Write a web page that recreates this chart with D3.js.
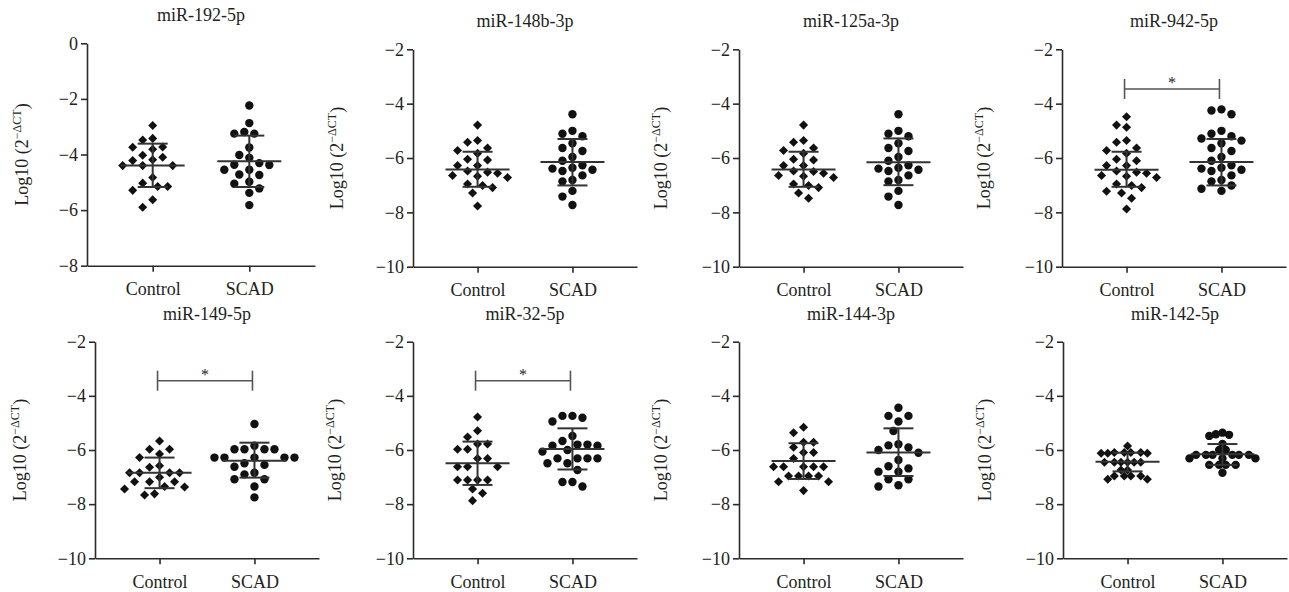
<!DOCTYPE html>
<html><head><meta charset="utf-8">
<script src="https://cdn.jsdelivr.net/npm/d3@7"></script>
<style>body{margin:0;background:#fff} svg{display:block} text{font-family:"Liberation Serif","Times New Roman",serif;fill:#231f20}</style>
</head><body>
<script>
// ---------- DATA ----------
const titles = ["miR-192-5p","miR-148b-3p","miR-125a-3p","miR-942-5p","miR-149-5p","miR-32-5p","miR-144-3p","miR-142-5p"];
const groups = ["Control","SCAD"];
const yDomains = [[-8,0],[-10,-2],[-10,-2],[-10,-2],[-10,-2],[-10,-2],[-10,-2],[-10,-2]];
const yTickValues = [[0,-2,-4,-6,-8],[-2,-4,-6,-8,-10],[-2,-4,-6,-8,-10],[-2,-4,-6,-8,-10],[-2,-4,-6,-8,-10],[-2,-4,-6,-8,-10],[-2,-4,-6,-8,-10],[-2,-4,-6,-8,-10]];

const controlValues = [
  [-2.96,-3.42,-3.48,-3.74,-3.73,-3.81,-4.03,-4.10,-4.22,-4.19,-4.40,-4.40,-4.40,-4.83,-5.03,-5.15,-5.15,-5.29,-5.63,-5.90],
  [-4.79,-5.36,-5.42,-5.63,-5.72,-5.83,-6.05,-6.07,-6.28,-6.28,-6.64,-6.56,-6.72,-6.67,-6.52,-6.48,-6.96,-7.09,-7.01,-7.29,-7.77],
  [-4.79,-5.36,-5.42,-5.63,-5.72,-5.83,-6.05,-6.07,-6.28,-6.28,-6.64,-6.56,-6.72,-6.67,-6.50,-6.48,-6.96,-7.09,-7.01,-7.29,-7.48],
  [-4.48,-4.87,-4.79,-5.36,-5.42,-5.63,-5.72,-5.83,-6.05,-6.10,-6.28,-6.28,-6.64,-6.56,-6.72,-6.67,-6.52,-6.48,-6.96,-7.09,-7.01,-7.29,-7.22,-7.48,-7.88],
  [-5.67,-5.97,-5.97,-6.15,-6.28,-6.58,-6.64,-6.84,-6.84,-6.84,-6.84,-7.01,-7.17,-7.17,-7.17,-7.35,-7.44,-7.37,-7.66,-7.62],
  [-4.78,-5.29,-5.52,-5.78,-5.78,-5.97,-5.97,-6.31,-6.31,-6.62,-6.62,-6.62,-7.11,-7.11,-7.11,-7.11,-7.44,-7.60,-7.87],
  [-5.16,-5.36,-5.71,-5.71,-5.90,-6.09,-6.09,-6.31,-6.62,-6.62,-6.62,-6.62,-6.62,-6.96,-6.96,-6.96,-6.96,-7.17,-7.17,-7.50],
  [-5.85,-6.09,-6.12,-6.09,-6.12,-6.09,-6.12,-6.09,-6.45,-6.45,-6.45,-6.45,-6.45,-6.45,-6.74,-6.74,-6.96,-6.96,-6.96,-6.96,-7.08,-7.08]
];
const scadValues = [
  [-2.24,-2.87,-3.19,-3.25,-3.25,-3.75,-4.12,-4.02,-4.37,-4.31,-4.38,-4.55,-4.55,-4.72,-4.74,-4.98,-5.05,-5.22,-5.38,-5.82],
  [-4.39,-5.00,-5.11,-5.20,-5.46,-5.63,-5.74,-5.96,-6.10,-6.36,-6.43,-6.27,-6.48,-6.39,-6.64,-6.81,-6.86,-7.21,-7.42,-7.73],
  [-4.39,-5.00,-5.11,-5.20,-5.46,-5.63,-5.74,-5.96,-6.10,-6.36,-6.43,-6.27,-6.48,-6.39,-6.64,-6.81,-6.86,-7.21,-7.42,-7.73],
  [-4.21,-4.39,-4.25,-5.00,-5.11,-5.20,-5.28,-5.36,-5.46,-5.63,-5.74,-5.96,-6.10,-6.36,-6.43,-6.27,-6.48,-6.39,-6.64,-6.81,-6.86,-7.13,-7.01,-7.21],
  [-5.04,-5.84,-5.97,-5.97,-5.97,-5.97,-6.28,-6.28,-6.28,-6.28,-6.28,-6.49,-6.55,-6.62,-6.84,-6.90,-7.08,-7.08,-7.35,-7.75],
  [-4.74,-4.81,-4.74,-4.95,-5.48,-5.67,-5.80,-5.84,-5.84,-5.80,-6.00,-6.06,-6.31,-6.31,-6.31,-6.31,-6.49,-6.49,-6.74,-7.18,-7.18,-7.35],
  [-4.44,-4.74,-4.74,-4.95,-5.30,-5.79,-5.83,-5.91,-6.00,-6.10,-6.37,-6.60,-6.68,-6.80,-6.80,-7.08,-7.08,-7.30,-7.35],
  [-5.36,-5.44,-5.48,-5.42,-5.78,-6.00,-6.00,-6.18,-6.18,-6.18,-6.18,-6.18,-6.18,-6.31,-6.31,-6.31,-6.55,-6.55,-6.55,-6.55,-6.84]
];
// [centre line, upper whisker, lower whisker] as drawn
const controlStats = [[-4.40,-3.61,-5.17],[-6.42,-5.77,-7.06],[-6.42,-5.77,-7.06],[-6.43,-5.77,-7.06],[-6.84,-6.28,-7.41],[-6.49,-5.69,-7.29],[-6.41,-5.75,-7.07],[-6.43,-6.10,-6.79]];
const scadStats    = [[-4.24,-3.32,-5.17],[-6.15,-5.30,-7.01],[-6.16,-5.28,-7.00],[-6.15,-5.30,-7.01],[-6.40,-5.73,-7.02],[-5.96,-5.20,-6.72],[-6.09,-5.20,-6.96],[-6.16,-5.78,-6.55]];
const sigLevels = [null,null,null,-3.46,-3.44,-3.44,null,null];
const sigLabel = "*";
const yLabelMain = "Log10 (2";
const yLabelSup = "\u2212\u0394CT";

// ---------- LAYOUT ----------
const W = 1289, H = 592;
const panels = [
  {x0:87,  x1:315,  yTop:43.3,  yBot:265.7, labX:22,  step:5,   gap:10},
  {x0:413, x1:637,  yTop:49.3,  yBot:266.7, labX:337, step:5,   gap:10},
  {x0:739, x1:963,  yTop:49.3,  yBot:266.7, labX:661, step:5,   gap:10},
  {x0:1062,x1:1286, yTop:49.3,  yBot:266.7, labX:984, step:5,   gap:10},
  {x0:95,  x1:319,  yTop:341.7, yBot:558.3, labX:20,  step:5,   gap:10},
  {x0:413, x1:637,  yTop:341.7, yBot:558.3, labX:335, step:5,   gap:10},
  {x0:739, x1:963,  yTop:341.7, yBot:558.3, labX:661, step:5,   gap:10},
  {x0:1063,x1:1287, yTop:341.7, yBot:558.3, labX:985, step:3.3, gap:6.6}
];
const axisColor = "#2b2b2b", barColor = "#333", sigColor = "#555";
const serif = '"Liberation Serif","Times New Roman",serif';

const svg = d3.select("body").append("svg").attr("width", W).attr("height", H);

function swarm(values, y, step, minDist) {
  const pts = values.map(v => ({v, y: y(v)})).sort((a, b) => a.y - b.y);
  const placed = [];
  for (const p of pts) {
    for (let k = 0; k < 80; k++) {
      const off = k === 0 ? 0 : (k % 2 ? -Math.ceil(k / 2) : Math.ceil(k / 2)) * step;
      if (placed.every(q => Math.hypot(q.dx - off, q.y - p.y) >= minDist)) { p.dx = off; break; }
    }
    placed.push(p);
  }
  return placed;
}

titles.forEach((title, i) => {
  const L = panels[i];
  const g = svg.append("g");
  const x = d3.scalePoint().domain(groups).range([L.x0, L.x1]).padding(0.68);
  const y = d3.scaleLinear().domain(yDomains[i]).range([L.yBot, L.yTop]);

  // title
  g.append("text").attr("x", (L.x0 + L.x1) / 2).attr("y", L.yTop - 22)
    .attr("text-anchor", "middle").style("font-size", "18px").style("font-family", serif).text(title);

  // axes
  const ya = g.append("g").attr("transform", `translate(${L.x0},0)`)
    .call(d3.axisLeft(y).tickValues(yTickValues[i]).tickSize(6).tickSizeOuter(0).tickPadding(3).tickFormat(d3.format("d")));
  const xa = g.append("g").attr("transform", `translate(0,${L.yBot})`)
    .call(d3.axisBottom(x).tickSize(6).tickSizeOuter(0).tickPadding(11));
  [ya, xa].forEach(a => {
    a.attr("font-family", serif);
    a.selectAll("path,line").attr("stroke", axisColor).attr("stroke-width", 1.6);
    a.selectAll("text").style("font-size", "18px").attr("fill", "#231f20").style("font-family", serif);
  });

  // y label
  const lab = g.append("text")
    .attr("transform", `translate(${L.labX + 6},${(L.yTop + L.yBot) / 2}) rotate(-90)`)
    .attr("text-anchor", "middle").style("font-size", "18px").style("font-family", serif);
  lab.append("tspan").text(yLabelMain);
  lab.append("tspan").attr("dy", -7).style("font-size", "12px").text(yLabelSup);
  lab.append("tspan").attr("dy", 7).text(")");

  // points
  [controlValues[i], scadValues[i]].forEach((vals, gi) => {
    const cx = x(groups[gi]);
    const pts = swarm(vals, y, L.step, L.gap);
    if (gi === 0) {
      g.selectAll(null).data(pts).enter().append("path")
        .attr("d", d3.symbol(d3.symbolDiamond2, 52)())
        .attr("transform", d => `translate(${cx + d.dx},${d.y})`)
        .attr("fill", "#111");
    } else {
      g.selectAll(null).data(pts).enter().append("circle")
        .attr("cx", d => cx + d.dx).attr("cy", d => d.y).attr("r", 4.2)
        .attr("fill", "#111");
    }
  });

  // centre line and whiskers
  [controlStats[i], scadStats[i]].forEach((s, gi) => {
    const cx = x(groups[gi]);
    const [c, up, lo] = s;
    g.append("line").attr("x1", cx - 32).attr("x2", cx + 32).attr("y1", y(c)).attr("y2", y(c))
      .attr("stroke", barColor).attr("stroke-width", 2);
    g.append("line").attr("x1", cx).attr("x2", cx).attr("y1", y(up)).attr("y2", y(lo))
      .attr("stroke", barColor).attr("stroke-width", 2);
    [up, lo].forEach(v => g.append("line").attr("x1", cx - 15).attr("x2", cx + 15)
      .attr("y1", y(v)).attr("y2", y(v)).attr("stroke", barColor).attr("stroke-width", 2));
  });

  // significance bracket
  if (sigLevels[i] !== null) {
    const yb = y(sigLevels[i]);
    const xa0 = x(groups[0]) - 2, xa1 = x(groups[1]) - 2;
    g.append("line").attr("x1", xa0).attr("x2", xa1).attr("y1", yb).attr("y2", yb)
      .attr("stroke", sigColor).attr("stroke-width", 1.6);
    [xa0, xa1].forEach(xx => g.append("line").attr("x1", xx).attr("x2", xx)
      .attr("y1", yb - 10).attr("y2", yb + 10).attr("stroke", sigColor).attr("stroke-width", 1.6));
    g.append("text").attr("x", (xa0 + xa1) / 2).attr("y", yb - 1)
      .attr("text-anchor", "middle").style("font-size", "16px").style("font-family", serif)
      .attr("fill", sigColor).text(sigLabel);
  }
});
</script>
</body></html>
